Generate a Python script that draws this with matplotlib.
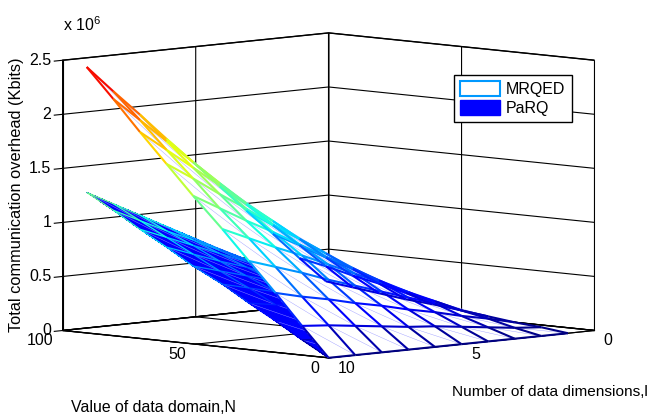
import matplotlib
matplotlib.use("Agg")
import matplotlib.pyplot as plt
import numpy as np
from matplotlib.patches import Patch
from mpl_toolkits.mplot3d.art3d import Line3DCollection

plt.rcParams['font.family'] = ['Liberation Sans', 'DejaVu Sans']
plt.rcParams['mathtext.fontset'] = 'custom'
plt.rcParams['mathtext.rm'] = 'Liberation Sans'
plt.rcParams['mathtext.default'] = 'regular'

# data, overhead in units of 1e6 Kbits
domain_n = [0, 10, 20, 30, 40, 51, 61, 71, 81, 91]
dims_l = [1, 2, 3, 4, 5, 6, 7, 8, 9, 10]

mrqed = [
    [0.00, 0.00, 0.00, 0.00, 0.00, 0.00, 0.00, 0.00, 0.00, 0.00],
    [0.03, 0.05, 0.08, 0.11, 0.14, 0.16, 0.19, 0.22, 0.25, 0.27],
    [0.05, 0.11, 0.16, 0.22, 0.27, 0.33, 0.38, 0.44, 0.49, 0.55],
    [0.08, 0.16, 0.25, 0.33, 0.41, 0.49, 0.57, 0.66, 0.74, 0.82],
    [0.11, 0.22, 0.33, 0.44, 0.55, 0.66, 0.77, 0.87, 0.98, 1.09],
    [0.14, 0.27, 0.41, 0.55, 0.68, 0.82, 0.96, 1.09, 1.23, 1.37],
    [0.16, 0.33, 0.49, 0.66, 0.82, 0.98, 1.15, 1.31, 1.48, 1.64],
    [0.19, 0.38, 0.57, 0.77, 0.96, 1.15, 1.34, 1.53, 1.72, 1.91],
    [0.22, 0.44, 0.66, 0.87, 1.09, 1.31, 1.53, 1.75, 1.97, 2.19],
    [0.25, 0.49, 0.74, 0.98, 1.23, 1.48, 1.72, 1.97, 2.21, 2.46],
]
parq = [
    [0.00, 0.00, 0.00, 0.00, 0.00, 0.00, 0.00, 0.00, 0.00, 0.00],
    [0.01, 0.03, 0.04, 0.06, 0.07, 0.09, 0.10, 0.12, 0.13, 0.14],
    [0.03, 0.06, 0.09, 0.12, 0.14, 0.17, 0.20, 0.23, 0.26, 0.29],
    [0.04, 0.09, 0.13, 0.17, 0.22, 0.26, 0.30, 0.35, 0.39, 0.43],
    [0.06, 0.12, 0.17, 0.23, 0.29, 0.35, 0.40, 0.46, 0.52, 0.58],
    [0.07, 0.14, 0.22, 0.29, 0.36, 0.43, 0.51, 0.58, 0.65, 0.72],
    [0.09, 0.17, 0.26, 0.35, 0.43, 0.52, 0.61, 0.69, 0.78, 0.87],
    [0.10, 0.20, 0.30, 0.40, 0.51, 0.61, 0.71, 0.81, 0.91, 1.01],
    [0.12, 0.23, 0.35, 0.46, 0.58, 0.69, 0.81, 0.92, 1.04, 1.16],
    [0.13, 0.26, 0.39, 0.52, 0.65, 0.78, 0.91, 1.04, 1.17, 1.30],
]
z_ticks = [0, 0.5, 1, 1.5, 2, 2.5]
z_labels = ['0', '0.5', '1', '1.5', '2', '2.5']

cmap = plt.get_cmap('jet')
norm = plt.Normalize(0, 2.6)


def add_mesh(ax, z, face, lw, order):
    xx, yy = np.meshgrid(domain_n, dims_l, indexing='ij')
    zz = np.array(z)
    surf = ax.plot_surface(xx, yy, zz, color=face, shade=False, rstride=1, cstride=1,
                           linewidth=0, antialiased=False, zorder=order)
    surf.set_clip_on(False)
    pts = np.dstack([xx, yy, zz])
    # faint seams across the cells
    seams = np.stack([pts[:-1, :-1], pts[1:, 1:]], axis=2).reshape(-1, 2, 3)
    seam_lines = Line3DCollection(seams, colors=[(0.6, 0.6, 1.0)], linewidths=0.3,
                                  zorder=order + 0.1)
    seam_lines.set_clip_on(False)
    ax.add_collection3d(seam_lines)
    # edges coloured by height
    segs = np.concatenate([
        np.stack([pts[:-1, :], pts[1:, :]], axis=2).reshape(-1, 2, 3),
        np.stack([pts[:, :-1], pts[:, 1:]], axis=2).reshape(-1, 2, 3),
    ])
    colors = cmap(norm(segs[:, :, 2].mean(axis=1)))
    edges = Line3DCollection(segs, colors=colors, linewidths=lw, zorder=order + 0.2)
    edges.set_clip_on(False)
    ax.add_collection3d(edges)


fig = plt.figure(figsize=(6.52, 4.17), dpi=100)
ax = fig.add_axes([-3 / 652, 7.5 / 417, 1, 1], projection='3d', computed_zorder=False,
                  proj_type='ortho')
ax.set_box_aspect((375, 375, 271), zoom=1.39)
ax.view_init(elev=5.9, azim=135)

add_mesh(ax, parq, 'blue', 0.9, 3)
add_mesh(ax, mrqed, 'white', 1.5, 4)

ax.set_xlim(0, 100)
ax.set_ylim(0, 10)
ax.set_zlim(0, 2.5)
ax.set_xticks([0, 50, 100])
ax.set_yticks([0, 5, 10])
ax.set_zticks(z_ticks)
ax.set_zticklabels(z_labels)
ax.tick_params(labelsize=11.5)
ax.tick_params(axis='x', pad=-2.5)
ax.tick_params(axis='y', pad=-2.5)
ax.tick_params(axis='z', pad=-4.6)
ax.zaxis.set_ticks_position('upper')
for t in ax.xaxis.get_major_ticks():
    t.label1.set_ha('right')
    t.label1.set_va('center')
for t in ax.yaxis.get_major_ticks():
    t.label1.set_ha('left')
    t.label1.set_va('center')
for t in ax.zaxis.get_major_ticks():
    t.label1.set_ha('right')
    t.label1.set_va('center')
    t.label2.set_ha('right')
    t.label2.set_va('center')
for axis in (ax.xaxis, ax.yaxis, ax.zaxis):
    axis.set_pane_color((1, 1, 1, 1))
    axis.pane.set_edgecolor('black')
    axis.line.set_color('black')
    axis._axinfo['grid'].update(color='black', linewidth=0.8)
    axis._axinfo['tick'].update(inward_factor=0.0, outward_factor=0.2)
# z ticks would otherwise run back along the grid lines
ax.zaxis._axinfo['tick'].update(inward_factor=0.0, outward_factor=-0.4)
ax.grid(True)

fig.text(63 / 652, 1 - 25 / 417, 'x 10$^{6}$', fontsize=11.5, ha='left', va='center')
fig.text(17 / 652, 1 - 195 / 417, 'Total communication overhead (Kbits)', rotation=90,
         fontsize=11.8, ha='center', va='center')
fig.text(153 / 652, 1 - 407 / 417, 'Value of data domain,N', fontsize=11.4, ha='center', va='center')
fig.text(550 / 652, 1 - 392 / 417, 'Number of data dimensions,l', fontsize=11.1, ha='center', va='center')

handles = [Patch(facecolor='white', edgecolor=(0, 0.6, 1), linewidth=1.5, label='MRQED'),
           Patch(facecolor='blue', edgecolor='blue', label='PaRQ')]
fig.legend(handles=handles, loc='upper left', bbox_to_anchor=(453.5 / 652, 1 - 74.5 / 417),
           fontsize=11.5, frameon=True, fancybox=False, edgecolor='black', framealpha=1,
           borderaxespad=0, handlelength=2.5, handleheight=1.05, labelspacing=0.2,
           handletextpad=0.4, borderpad=0.4)

fig.savefig('out.png', dpi=100)
